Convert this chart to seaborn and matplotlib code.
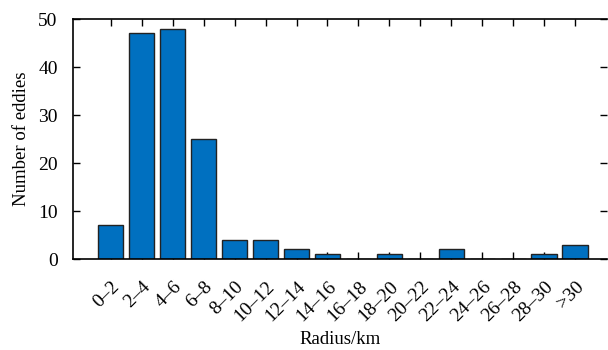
import matplotlib
matplotlib.use("Agg")
import matplotlib.pyplot as plt
import seaborn as sns
import pandas as pd

categories = ["0–2", "2–4", "4–6", "6–8", "8–10", "10–12", "12–14", "14–16",
              "16–18", "18–20", "20–22", "22–24", "24–26", "26–28", "28–30", ">30"]
counts = [7, 47, 48, 25, 4, 4, 2, 1, 0, 1, 0, 2, 0, 0, 1, 3]

sns.set_theme(style="ticks")
plt.rcParams["font.family"] = ["Liberation Serif", "DejaVu Serif"]
plt.rcParams["text.color"] = "black"
plt.rcParams["axes.labelcolor"] = "black"

df = pd.DataFrame({"radius": categories, "count": counts})

fig = plt.figure(figsize=(6.08, 3.5), dpi=100)
ax = fig.add_axes([73/608, 1 - 259/350, 534/608, 240/350])

sns.barplot(data=df, x="radius", y="count", order=categories, color="#0070C0",
            saturation=1, width=0.82, edgecolor="#222222", linewidth=1.0, ax=ax)

ax.set_ylim(0, 50)
ax.set_xlim(-1.22, 16.03)
ax.set_yticks([0, 10, 20, 30, 40, 50])
ax.tick_params(axis="both", direction="in", length=5, width=1, colors="black",
               labelsize=14, top=True, right=True)
ax.tick_params(axis="x", pad=14)
ax.tick_params(axis="y", pad=11)
plt.setp(ax.get_xticklabels(), rotation=45, ha="right", rotation_mode="anchor")
for s in ["left", "top", "bottom"]:
    ax.spines[s].set_linewidth(1.2)
    ax.spines[s].set_color("black")
ax.spines["right"].set_visible(False)
ax.set_xlabel("Radius/km", fontsize=13.5, labelpad=4, color="black")
ax.set_ylabel("Number of eddies", fontsize=13.5, labelpad=6, color="black")

fig.savefig("out.png", dpi=100)
